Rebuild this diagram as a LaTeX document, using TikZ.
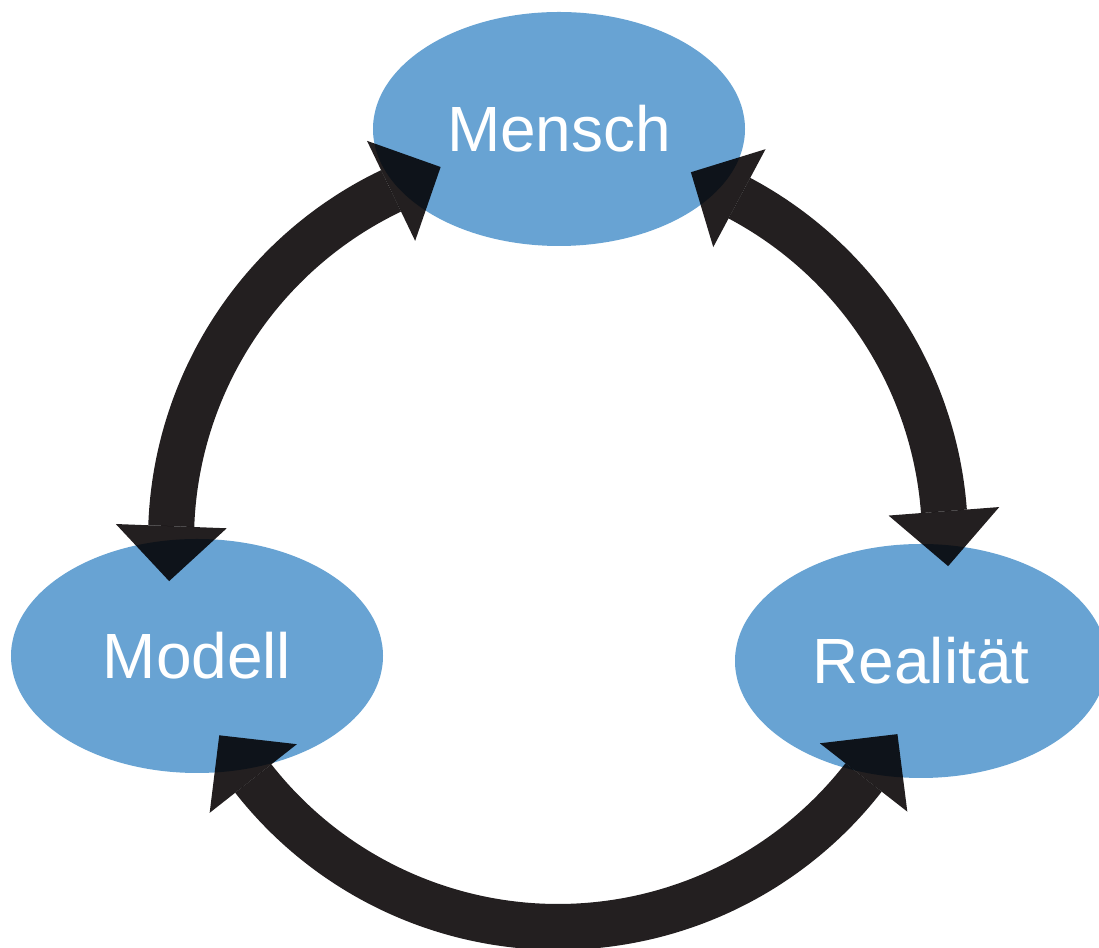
\documentclass[tikz,border=0pt]{standalone}
\usepackage{fontspec}
\setmainfont{Liberation Sans}
\usetikzlibrary{positioning, arrows.meta, calc, shapes.geometric}

\definecolor{bubble}{RGB}{104,163,211}
\definecolor{ink}{RGB}{35,31,32}

\begin{document}
\begin{tikzpicture}[x=0.2mm, y=0.2mm,
    state/.style={ellipse, fill=bubble, minimum width=74.4mm, minimum height=46.8mm, inner sep=0pt, text=white, font=\fontsize{36.4}{40}\selectfont},
    link/.style={ink, line width=9.2mm, {Triangle[length=11mm, width=22.2mm, line width=0pt]}-{Triangle[length=11mm, width=22.2mm, line width=0pt]}, blend mode=multiply}]

        \useasboundingbox (0,0) rectangle (1099,948);

        % STATES
        \node[state] (Mensch)    at (559,819) {Mensch};
        \node[state] (Modell)    at (197,292) {Modell};
        \node[state] (Realitaet) at (921,287) {Realität};

        % CYCLE (ALL THREE ARCS SHARE ONE CENTRE, HEADS LEAVE ALONG THE TANGENT)
        \coordinate (hub) at (558,408);
        \draw[link] ($(hub)+(115.7:387)+(25.7:56)$) -- ($(hub)+(115.7:387)$)
            arc[start angle=115.7, end angle=177.8, radius=77.4mm] -- ++(267.8:56);
        \draw[link] ($(hub)+(61.9:387)+(151.9:56)$) -- ($(hub)+(61.9:387)$)
            arc[start angle=61.9, end angle=4.4, radius=77.4mm] -- ++(-85.6:56);
        \draw[link] ($(hub)+(218.2:387)+(128.2:56)$) -- ($(hub)+(218.2:387)$)
            arc[start angle=218.2, end angle=322, radius=77.4mm] -- ++(52:56);

    \end{tikzpicture}
\end{document}
